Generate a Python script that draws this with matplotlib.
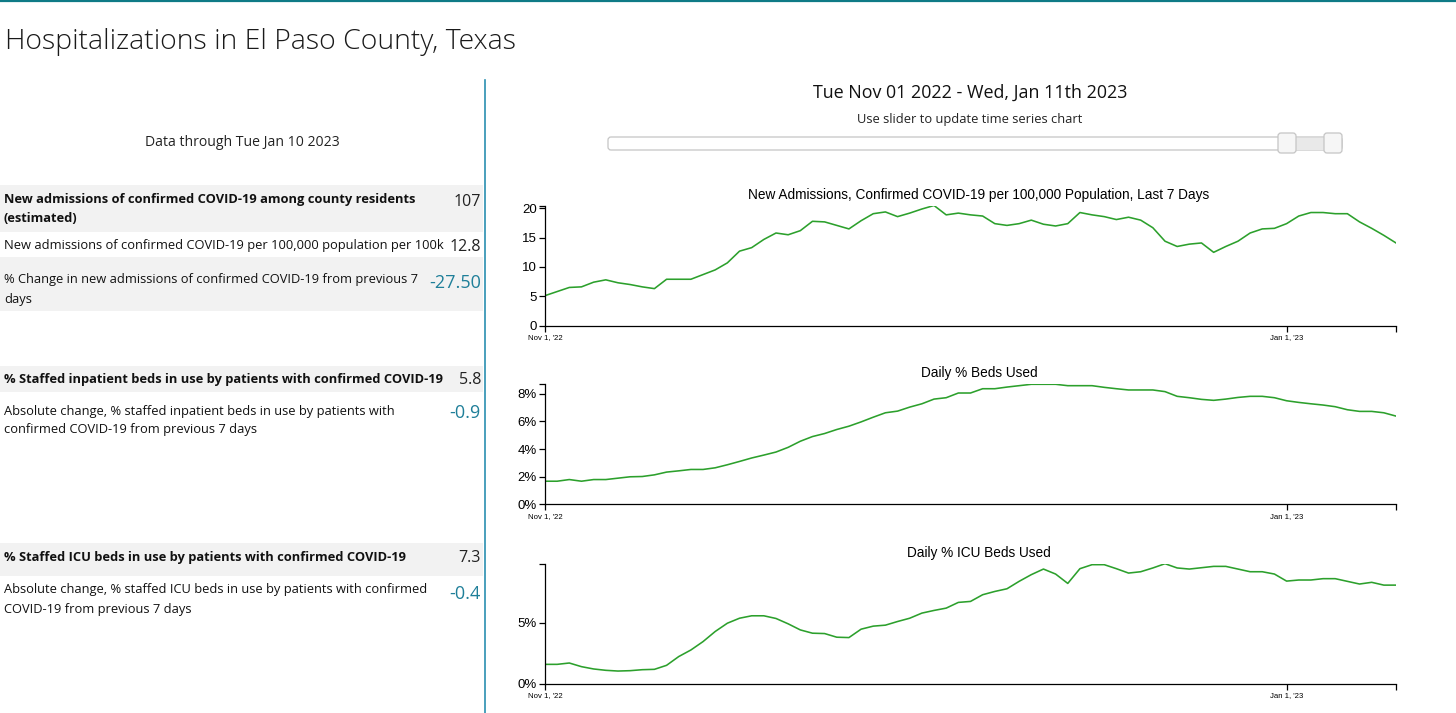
import numpy as np
import pandas as pd
import matplotlib
matplotlib.use('Agg')
import matplotlib.pyplot as plt
import matplotlib.dates as mdates
import matplotlib.ticker as mticker
from matplotlib.patches import Rectangle, FancyBboxPatch

W, H = 1456, 713

# daily series, Nov 1 2022 - Jan 10 2023
dates = pd.date_range('2022-11-01', '2023-01-10', freq='D')

new_adm = [5.1, 5.8, 6.5, 6.6, 7.4, 7.8, 7.3, 7.0, 6.6, 6.3, 7.9, 7.9, 7.9, 8.7, 9.5, 10.7, 12.7, 13.3,
           14.7, 15.8, 15.5, 16.2, 17.8, 17.7, 17.1, 16.5, 17.9, 19.1, 19.4, 18.6, 19.2, 19.9, 20.5, 18.9,
           19.2, 18.9, 18.7, 17.4, 17.1, 17.4, 18.0, 17.3, 17.0, 17.4, 19.3, 18.9, 18.6, 18.1, 18.5, 18.0,
           16.7, 14.4, 13.5, 13.9, 14.1, 12.5, 13.5, 14.4, 15.8, 16.5, 16.6, 17.4, 18.7, 19.3, 19.3, 19.1,
           19.1, 17.7, 16.6, 15.4, 14.1]

beds_pct = [1.67, 1.67, 1.79, 1.67, 1.79, 1.79, 1.89, 1.99, 2.01, 2.13, 2.33, 2.42, 2.52, 2.52, 2.64, 2.86,
            3.10, 3.35, 3.56, 3.78, 4.12, 4.56, 4.90, 5.12, 5.41, 5.65, 5.96, 6.30, 6.62, 6.74, 7.03, 7.27,
            7.61, 7.71, 8.05, 8.05, 8.36, 8.36, 8.48, 8.58, 8.68, 8.68, 8.68, 8.58, 8.58, 8.58, 8.46, 8.36,
            8.27, 8.27, 8.27, 8.15, 7.81, 7.71, 7.59, 7.52, 7.61, 7.73, 7.81, 7.81, 7.71, 7.49, 7.37, 7.27,
            7.18, 7.06, 6.84, 6.72, 6.72, 6.62, 6.38]

icu_pct = [1.59, 1.59, 1.70, 1.40, 1.21, 1.10, 1.04, 1.07, 1.15, 1.18, 1.51, 2.23, 2.77, 3.46, 4.29, 4.97,
           5.38, 5.58, 5.58, 5.36, 4.92, 4.42, 4.15, 4.12, 3.82, 3.79, 4.48, 4.73, 4.81, 5.11, 5.38, 5.80,
           6.02, 6.21, 6.68, 6.76, 7.31, 7.58, 7.80, 8.41, 8.96, 9.42, 9.01, 8.24, 9.45, 9.78, 9.78, 9.45,
           9.09, 9.20, 9.51, 9.86, 9.51, 9.42, 9.53, 9.64, 9.64, 9.42, 9.20, 9.20, 9.01, 8.43, 8.52, 8.52,
           8.63, 8.63, 8.41, 8.19, 8.33, 8.10, 8.10]

x_tick_dates = pd.to_datetime(['2022-11-01', '2023-01-01'])
x_tick_labels = ["Nov 1, '22", "Jan 1, '23"]

chart_titles = ['New Admissions, Confirmed COVID-19 per 100,000 Population, Last 7 Days',
                'Daily % Beds Used', 'Daily % ICU Beds Used']

# left panel rows: (label lines, value, bold, teal)
summary_rows = [
    (['New admissions of confirmed COVID-19 among county residents', '(estimated)'], '107', True, False),
    (['New admissions of confirmed COVID-19 per 100,000 population per 100k'], '12.8', False, False),
    (['% Change in new admissions of confirmed COVID-19 from previous 7', 'days'], '-27.50', False, True),
    (['% Staffed inpatient beds in use by patients with confirmed COVID-19'], '5.8', True, False),
    (['Absolute change, % staffed inpatient beds in use by patients with',
      'confirmed COVID-19 from previous 7 days'], '-0.9', False, True),
    (['% Staffed ICU beds in use by patients with confirmed COVID-19'], '7.3', True, False),
    (['Absolute change, % staffed ICU beds in use by patients with confirmed',
      'COVID-19 from previous 7 days'], '-0.4', False, True),
]
# pixel layout for the rows: (band top, band bottom, first line y, value y, grey band)
row_layout = [(185, 232, 200, 202, True), (232, 256, 246, 247, False), (257, 311, 280, 283, True),
              (366, 392, 379, 380, True), (392, 440, 411, 413, False),
              (543, 576, 557, 558, True), (576, 620, 590, 594, False)]

GREEN = '#2ca02c'
TEAL = '#1f7f99'
TEXT_FONT = ['Open Sans', 'DejaVu Sans']
CHART_FONT = ['Liberation Sans', 'DejaVu Sans']

fig = plt.figure(figsize=(W / 100, H / 100), dpi=100)
fig.set_facecolor('white')

# background axes in pixel coordinates
bg = fig.add_axes([0, 0, 1, 1], zorder=0)
bg.set_xlim(0, W)
bg.set_ylim(H, 0)
bg.axis('off')

bg.plot([0, W], [0.8, 0.8], color='#0f7a86', lw=1.6, solid_capstyle='butt')
bg.plot([485, 485], [80, H], color='#2a8fb0', lw=1.2)

bg.text(5, 42, 'Hospitalizations in El Paso County, Texas', fontsize=20.4, family=TEXT_FONT,
        weight='light', color='#1a1a1a', va='center', ha='left')
bg.text(242, 142, 'Data through Tue Jan 10 2023', fontsize=10.1, family=TEXT_FONT,
        color='#222222', va='center', ha='center')

for (lines, val, bold, teal), (top, bot, ly, vy, grey) in zip(summary_rows, row_layout):
    if grey:
        bg.add_patch(Rectangle((0, top), 483, bot - top, facecolor='#f2f2f2', edgecolor='none'))
    for i, ln in enumerate(lines):
        bg.text(4, ly + i * 19, ln, fontsize=9.3, family=TEXT_FONT,
                weight='bold' if bold else 'normal', color='#111111', va='center', ha='left')
    bg.text(481, vy, val, fontsize=13 if teal else 11.5, family=TEXT_FONT,
            color=TEAL if teal else '#222222', va='center', ha='right')

# date range header and slider
bg.text(970, 93, 'Tue Nov 01 2022 - Wed, Jan 11th 2023', fontsize=12.9, family=TEXT_FONT,
        color='#111111', va='center', ha='center')
bg.text(970, 119, 'Use slider to update time series chart', fontsize=9.3, family=TEXT_FONT,
        color='#222222', va='center', ha='center')
bg.add_patch(FancyBboxPatch((608, 137), 734, 13, boxstyle='round,pad=0,rounding_size=3',
                            facecolor='white', edgecolor='#c5c5c5', lw=0.9))
bg.add_patch(Rectangle((1290, 137.5), 40, 12, facecolor='#e9e9e9', edgecolor='none'))
for hx in (1278, 1324):
    bg.add_patch(FancyBboxPatch((hx, 133), 18, 20, boxstyle='round,pad=0,rounding_size=3',
                                facecolor='#f6f6f6', edgecolor='#c5c5c5', lw=0.9))


def drawChart(bottom_px, values, title, yticks, pct):
    ax_h = 120
    ax = fig.add_axes([545 / W, 1 - bottom_px / H, 851 / W, ax_h / H], zorder=2)
    ax.set_facecolor('none')
    ax.plot(dates, values, color=GREEN, lw=1.15)
    ax.set_xlim(dates[0], dates[-1])
    ax.set_ylim(0, max(values))
    for s in ('top', 'right'):
        ax.spines[s].set_visible(False)
    for s in ('left', 'bottom'):
        ax.spines[s].set_linewidth(0.9)
        ax.spines[s].set_color('black')
    ax.set_yticks(yticks)
    if pct:
        ax.yaxis.set_major_formatter(mticker.FuncFormatter(lambda v, p: '%d%%' % v))
    # outer ticks at the domain ends, like a d3 axis
    ax.set_yticks([max(values)], minor=True)
    ax.set_xticks(x_tick_dates)
    ax.set_xticklabels(x_tick_labels)
    ax.set_xticks([dates[-1]], minor=True)
    ax.tick_params(axis='both', which='both', direction='out', length=4.3, width=0.9, color='black')
    ax.tick_params(axis='y', labelsize=9.5, pad=1.5)
    ax.tick_params(axis='x', labelsize=5.6, pad=2)
    for lbl in ax.get_xticklabels() + ax.get_yticklabels():
        lbl.set_family(CHART_FONT)
    ax.text(0.51, 1.0 + 11 / ax_h, title, transform=ax.transAxes, fontsize=9.85, family=CHART_FONT,
            ha='center', va='center', color='black')
    return ax


drawChart(325.5, new_adm, chart_titles[0], [0, 5, 10, 15, 20], False)
drawChart(504.3, beds_pct, chart_titles[1], [0, 2, 4, 6, 8], True)
drawChart(683.7, icu_pct, chart_titles[2], [0, 5], True)

fig.savefig('out.png', dpi=100, facecolor='white')
